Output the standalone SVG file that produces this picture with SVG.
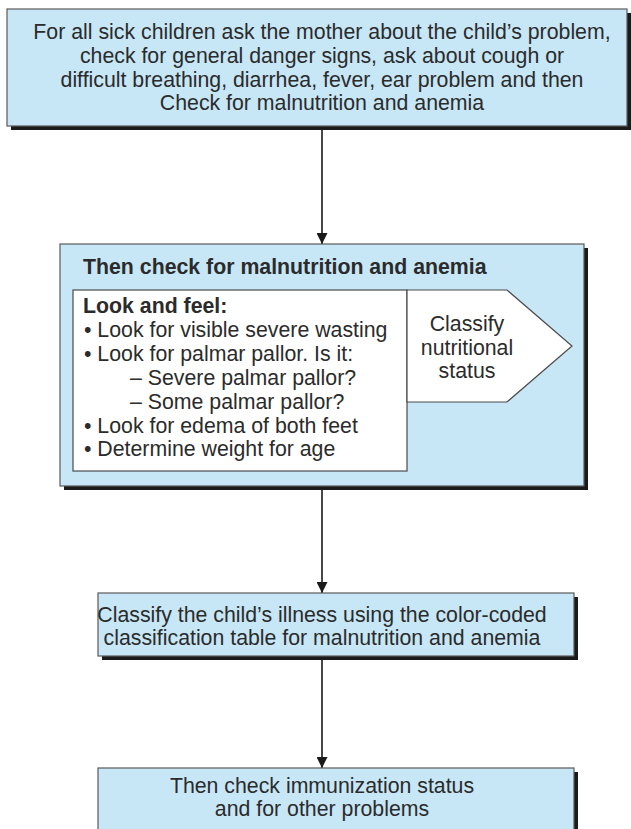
<svg xmlns="http://www.w3.org/2000/svg" width="631" height="829" viewBox="0 0 631 829">
<defs>
<style>
.box{fill:#c7e7f7;stroke:#5a5a5a;stroke-width:1.2}
.shadow{fill:#1a1a1a}
.wbox{fill:#ffffff;stroke:#4a4a4a;stroke-width:1.2}
.t{font-family:"Liberation Sans",Arial,sans-serif;font-size:21.3px;fill:#2b2b2b}
.c{text-anchor:middle}
.b{font-weight:bold}
.conn{stroke:#1a1a1a;stroke-width:1.6;fill:none}
</style>
<marker id="ah" viewBox="0 0 10 10" refX="10" refY="5" markerWidth="11" markerHeight="11" markerUnits="userSpaceOnUse" orient="auto">
<path d="M0,0 L10,5 L0,10 Z" fill="#1a1a1a"/>
</marker>
</defs>
<rect width="631" height="829" fill="#ffffff"/>
<g id="connectors">
<line class="conn" x1="322" y1="130" x2="322" y2="244" marker-end="url(#ah)"/>
<line class="conn" x1="322" y1="490" x2="322" y2="593" marker-end="url(#ah)"/>
<line class="conn" x1="322" y1="660" x2="322" y2="768" marker-end="url(#ah)"/>
</g>
<g id="node-start">
<rect class="shadow" x="11" y="13" width="620" height="117"/>
<rect class="box" x="7" y="9" width="620" height="117"/>
<text class="t c" x="322" y="39">For all sick children ask the mother about the child’s problem,</text>
<text class="t c" x="322" y="63">check for general danger signs, ask about cough or</text>
<text class="t c" x="322" y="87">difficult breathing, diarrhea, fever, ear problem and then</text>
<text class="t c" x="322" y="110">Check for malnutrition and anemia</text>
</g>
<g id="node-check">
<rect class="shadow" x="64" y="248" width="524" height="242"/>
<rect class="box" x="60" y="244" width="524" height="242"/>
<text class="t b" x="83" y="274">Then check for malnutrition and anemia</text>
<rect class="wbox" x="73" y="290" width="334" height="181"/>
<text class="t b" x="83" y="313">Look and feel:</text>
<text class="t" x="84" y="337">• Look for visible severe wasting</text>
<text class="t" x="84" y="361">• Look for palmar pallor. Is it:</text>
<text class="t" x="130" y="385">– Severe palmar pallor?</text>
<text class="t" x="130" y="409">– Some palmar pallor?</text>
<text class="t" x="84" y="433">• Look for edema of both feet</text>
<text class="t" x="84" y="456">• Determine weight for age</text>
</g>
<g id="node-classify-status">
<path class="wbox" d="M407,290 L507,290 L572,346 L507,402 L407,402 Z"/>
<text class="t c" x="467" y="331">Classify</text>
<text class="t c" x="467" y="355">nutritional</text>
<text class="t c" x="467" y="378">status</text>
</g>
<g id="node-classify-illness">
<rect class="shadow" x="102" y="597" width="476" height="63"/>
<rect class="box" x="98" y="593" width="476" height="63"/>
<text class="t c" x="322" y="622">Classify the child’s illness using the color-coded</text>
<text class="t c" x="322" y="645">classification table for malnutrition and anemia</text>
</g>
<g id="node-immunization">
<rect class="shadow" x="102" y="772" width="476" height="70"/>
<rect class="box" x="98" y="768" width="476" height="70"/>
<text class="t c" x="322" y="793">Then check immunization status</text>
<text class="t c" x="322" y="816">and for other problems</text>
</g>
</svg>
